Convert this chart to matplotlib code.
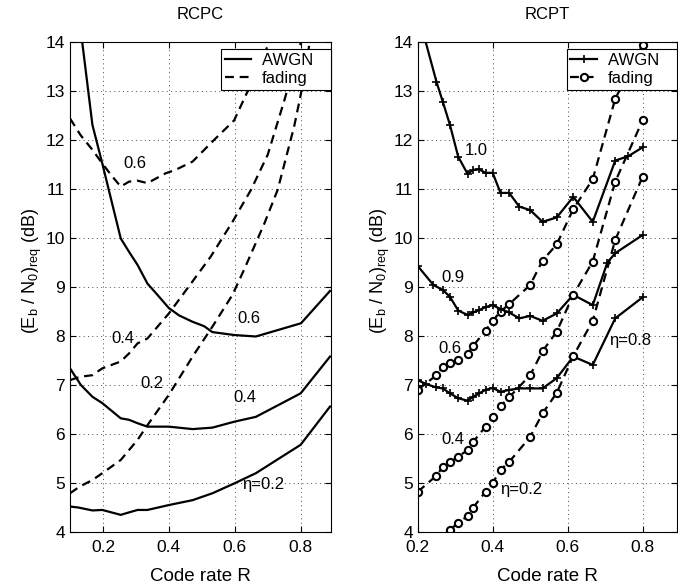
import matplotlib
matplotlib.use("Agg")
import matplotlib.pyplot as plt

plt.rcParams['font.family'] = ['Liberation Sans', 'DejaVu Sans']
plt.rcParams['mathtext.fontset'] = 'custom'
plt.rcParams['mathtext.rm'] = 'Liberation Sans'
plt.rcParams['mathtext.it'] = 'Liberation Sans'
plt.rcParams['mathtext.default'] = 'regular'
plt.rcParams['font.size'] = 12

# ---- RCPC (left) ----
rcpc_awgn_06_x = [0.137, 0.168, 0.198, 0.254, 0.279, 0.305, 0.335, 0.364, 0.4, 0.431,
                  0.472, 0.507, 0.532, 0.598, 0.664, 0.801, 0.889]
rcpc_awgn_06_y = [14.0, 12.31, 11.52, 9.99, 9.72, 9.45, 9.07, 8.85, 8.57, 8.42,
                  8.29, 8.2, 8.08, 8.02, 7.99, 8.26, 8.92]
rcpc_awgn_04_x = [0.1, 0.133, 0.168, 0.198, 0.254, 0.279, 0.305, 0.335, 0.4, 0.472,
                  0.532, 0.598, 0.664, 0.8, 0.889]
rcpc_awgn_04_y = [7.34, 7.0, 6.76, 6.63, 6.32, 6.29, 6.22, 6.15, 6.15, 6.10,
                  6.13, 6.25, 6.35, 6.83, 7.58]
rcpc_awgn_02_x = [0.1, 0.125, 0.168, 0.198, 0.254, 0.279, 0.305, 0.335, 0.4, 0.472,
                  0.532, 0.598, 0.664, 0.8, 0.889]
rcpc_awgn_02_y = [4.52, 4.50, 4.44, 4.45, 4.35, 4.40, 4.45, 4.45, 4.55, 4.65,
                  4.79, 4.99, 5.2, 5.78, 6.56]
rcpc_fad_06_x = [0.1, 0.132, 0.168, 0.198, 0.229, 0.254, 0.279, 0.305, 0.335, 0.39,
                 0.42, 0.472, 0.537, 0.598, 0.636, 0.667, 0.727]
rcpc_fad_06_y = [12.44, 12.1, 11.8, 11.52, 11.25, 11.05, 11.15, 11.17, 11.12, 11.32,
                 11.39, 11.56, 12.0, 12.4, 12.95, 13.35, 14.4]
rcpc_fad_04_x = [0.1, 0.132, 0.168, 0.198, 0.254, 0.28, 0.305, 0.335, 0.4, 0.467,
                 0.527, 0.593, 0.649, 0.7, 0.75, 0.8]
rcpc_fad_04_y = [7.1, 7.17, 7.2, 7.34, 7.48, 7.65, 7.85, 7.95, 8.46, 9.07,
                 9.62, 10.33, 10.98, 11.7, 12.8, 13.98]
rcpc_fad_02_x = [0.1, 0.13, 0.168, 0.198, 0.254, 0.305, 0.335, 0.4, 0.472, 0.532,
                 0.593, 0.628, 0.69, 0.73, 0.78, 0.8, 0.826]
rcpc_fad_02_y = [4.79, 4.93, 5.06, 5.2, 5.47, 5.88, 6.18, 6.8, 7.58, 8.19,
                 8.84, 9.35, 10.3, 10.98, 12.27, 12.92, 13.94]

# ---- RCPT (right) ----
rcpt_awgn_10_x = [0.2, 0.25, 0.267, 0.286, 0.308, 0.333, 0.348, 0.364, 0.381, 0.4, 0.421,
                  0.444, 0.471, 0.5, 0.533, 0.571, 0.615, 0.667, 0.727, 0.762, 0.8]
rcpt_awgn_10_y = [14.6, 13.19, 12.78, 12.31, 11.66, 11.31, 11.39, 11.40, 11.33, 11.33, 10.92,
                  10.92, 10.64, 10.57, 10.33, 10.42, 10.84, 10.33, 11.58, 11.67, 11.85]
rcpt_awgn_09_x = [0.2, 0.242, 0.267, 0.286, 0.308, 0.333, 0.348, 0.364, 0.381, 0.4, 0.421,
                  0.444, 0.471, 0.5, 0.533, 0.571, 0.615, 0.667, 0.706, 0.727, 0.8]
rcpt_awgn_09_y = [9.43, 9.04, 8.94, 8.8, 8.52, 8.43, 8.48, 8.53, 8.59, 8.63, 8.55,
                  8.48, 8.36, 8.41, 8.31, 8.46, 8.84, 8.63, 9.5, 9.69, 10.06]
rcpt_awgn_08_x = [0.2, 0.222, 0.25, 0.267, 0.286, 0.308, 0.333, 0.348, 0.364, 0.381, 0.4,
                  0.421, 0.444, 0.471, 0.5, 0.533, 0.571, 0.615, 0.667, 0.727, 0.8]
rcpt_awgn_08_y = [7.1, 7.02, 6.95, 6.93, 6.83, 6.73, 6.68, 6.76, 6.83, 6.9, 6.94,
                  6.86, 6.9, 6.93, 6.93, 6.93, 7.14, 7.58, 7.41, 8.36, 8.79]
rcpt_fad_06_x = [0.2, 0.25, 0.267, 0.286, 0.308, 0.333, 0.348, 0.381, 0.4, 0.421, 0.444,
                 0.5, 0.533, 0.571, 0.615, 0.667, 0.727, 0.8]
rcpt_fad_06_y = [6.9, 7.2, 7.37, 7.44, 7.52, 7.63, 7.8, 8.11, 8.31, 8.5, 8.65,
                 9.04, 9.54, 9.87, 10.59, 11.2, 12.84, 13.94]
rcpt_fad_04_x = [0.2, 0.25, 0.267, 0.286, 0.308, 0.333, 0.348, 0.381, 0.4, 0.421, 0.444,
                 0.5, 0.533, 0.571, 0.615, 0.667, 0.727, 0.8]
rcpt_fad_04_y = [4.82, 5.15, 5.33, 5.42, 5.54, 5.67, 5.84, 6.15, 6.35, 6.57, 6.75,
                 7.2, 7.69, 8.09, 8.84, 9.52, 11.15, 12.4]
rcpt_fad_02_x = [0.267, 0.286, 0.308, 0.333, 0.348, 0.381, 0.4, 0.421, 0.444,
                 0.5, 0.533, 0.571, 0.615, 0.667, 0.727, 0.8]
rcpt_fad_02_y = [3.85, 4.05, 4.18, 4.33, 4.5, 4.82, 5.0, 5.27, 5.43,
                 5.94, 6.42, 6.84, 7.59, 8.31, 9.96, 11.25]

W, H = 678, 587
fig = plt.figure(figsize=(W / 100, H / 100), dpi=100)
ax1 = fig.add_axes([70 / W, 1 - 532 / H, 261 / W, 490 / H])
ax2 = fig.add_axes([417.7 / W, 1 - 532 / H, 259 / W, 490 / H])

solid = dict(color='black', lw=1.6)
dash = dict(color='black', lw=1.6, ls=(0, (4, 2.6)))

ax1.plot(rcpc_awgn_06_x, rcpc_awgn_06_y, label='AWGN   ', **solid)
ax1.plot(rcpc_fad_06_x, rcpc_fad_06_y, label='fading', **dash)
ax1.plot(rcpc_awgn_04_x, rcpc_awgn_04_y, **solid)
ax1.plot(rcpc_awgn_02_x, rcpc_awgn_02_y, **solid)
ax1.plot(rcpc_fad_04_x, rcpc_fad_04_y, **dash)
ax1.plot(rcpc_fad_02_x, rcpc_fad_02_y, **dash)

pm = dict(marker='+', ms=5.5, mew=1.2)
om = dict(marker='o', ms=5.2, mew=1.5, mfc='white', mec='black')
ax2.plot(rcpt_awgn_10_x, rcpt_awgn_10_y, label='AWGN   ', **solid, **pm)
ax2.plot(rcpt_fad_06_x, rcpt_fad_06_y, label='fading', **dash, **om)
ax2.plot(rcpt_awgn_09_x, rcpt_awgn_09_y, **solid, **pm)
ax2.plot(rcpt_awgn_08_x, rcpt_awgn_08_y, **solid, **pm)
ax2.plot(rcpt_fad_04_x, rcpt_fad_04_y, **dash, **om)
ax2.plot(rcpt_fad_02_x, rcpt_fad_02_y, **dash, **om)

# curve labels
ax1.text(0.297, 11.53, '0.6', ha='center', va='center')
ax1.text(0.259, 7.95, '0.4', ha='center', va='center')
ax1.text(0.35, 7.03, '0.2', ha='center', va='center')
ax1.text(0.644, 8.36, '0.6', ha='center', va='center')
ax1.text(0.63, 6.75, '0.4', ha='center', va='center')
ax1.text(0.685, 4.96, 'η=0.2', ha='center', va='center')
ax2.text(0.355, 11.78, '1.0', ha='center', va='center')
ax2.text(0.295, 9.2, '0.9', ha='center', va='center')
ax2.text(0.286, 7.75, '0.6', ha='center', va='center')
ax2.text(0.295, 5.88, '0.4', ha='center', va='center')
ax2.text(0.477, 4.87, 'η=0.2', ha='center', va='center')
ax2.text(0.766, 7.9, 'η=0.8', ha='center', va='center')

for ax, title, xlim in [(ax1, 'RCPC', (0.1, 0.892)), (ax2, 'RCPT', (0.2, 0.891))]:
    ax.set_xlim(*xlim)
    ax.set_ylim(4, 14)
    ax.set_xticks([0.2, 0.4, 0.6, 0.8])
    ax.set_yticks(range(4, 15))
    ax.grid(True, color='0.3', lw=0.7, ls=(0, (1, 3.5)))
    ax.tick_params(direction='in', top=True, right=True, length=4, width=0.8,
                   labelsize=12.5)
    ax.tick_params(axis='x', pad=6)
    for s in ax.spines.values():
        s.set_linewidth(0.8)
    ax.set_title(title, pad=16.5, fontsize=12)
    ax.set_xlabel('Code rate R', labelpad=9, fontsize=13.5)
    ax.set_ylabel('(E$_b$ / N$_0$)$_{req}$ (dB)', fontsize=13)
    ax.yaxis.set_label_coords(-0.10, 0.533)
    leg = ax.legend(loc='upper right', bbox_to_anchor=(1.0, 1 - 7 / 490), borderaxespad=0,
                    fancybox=False, framealpha=1, edgecolor='black', handlelength=1.6,
                    borderpad=0.22, labelspacing=0.2, handletextpad=0.65, fontsize=12)
    leg.get_frame().set_linewidth(0.8)

fig.savefig('out.png', dpi=100)
